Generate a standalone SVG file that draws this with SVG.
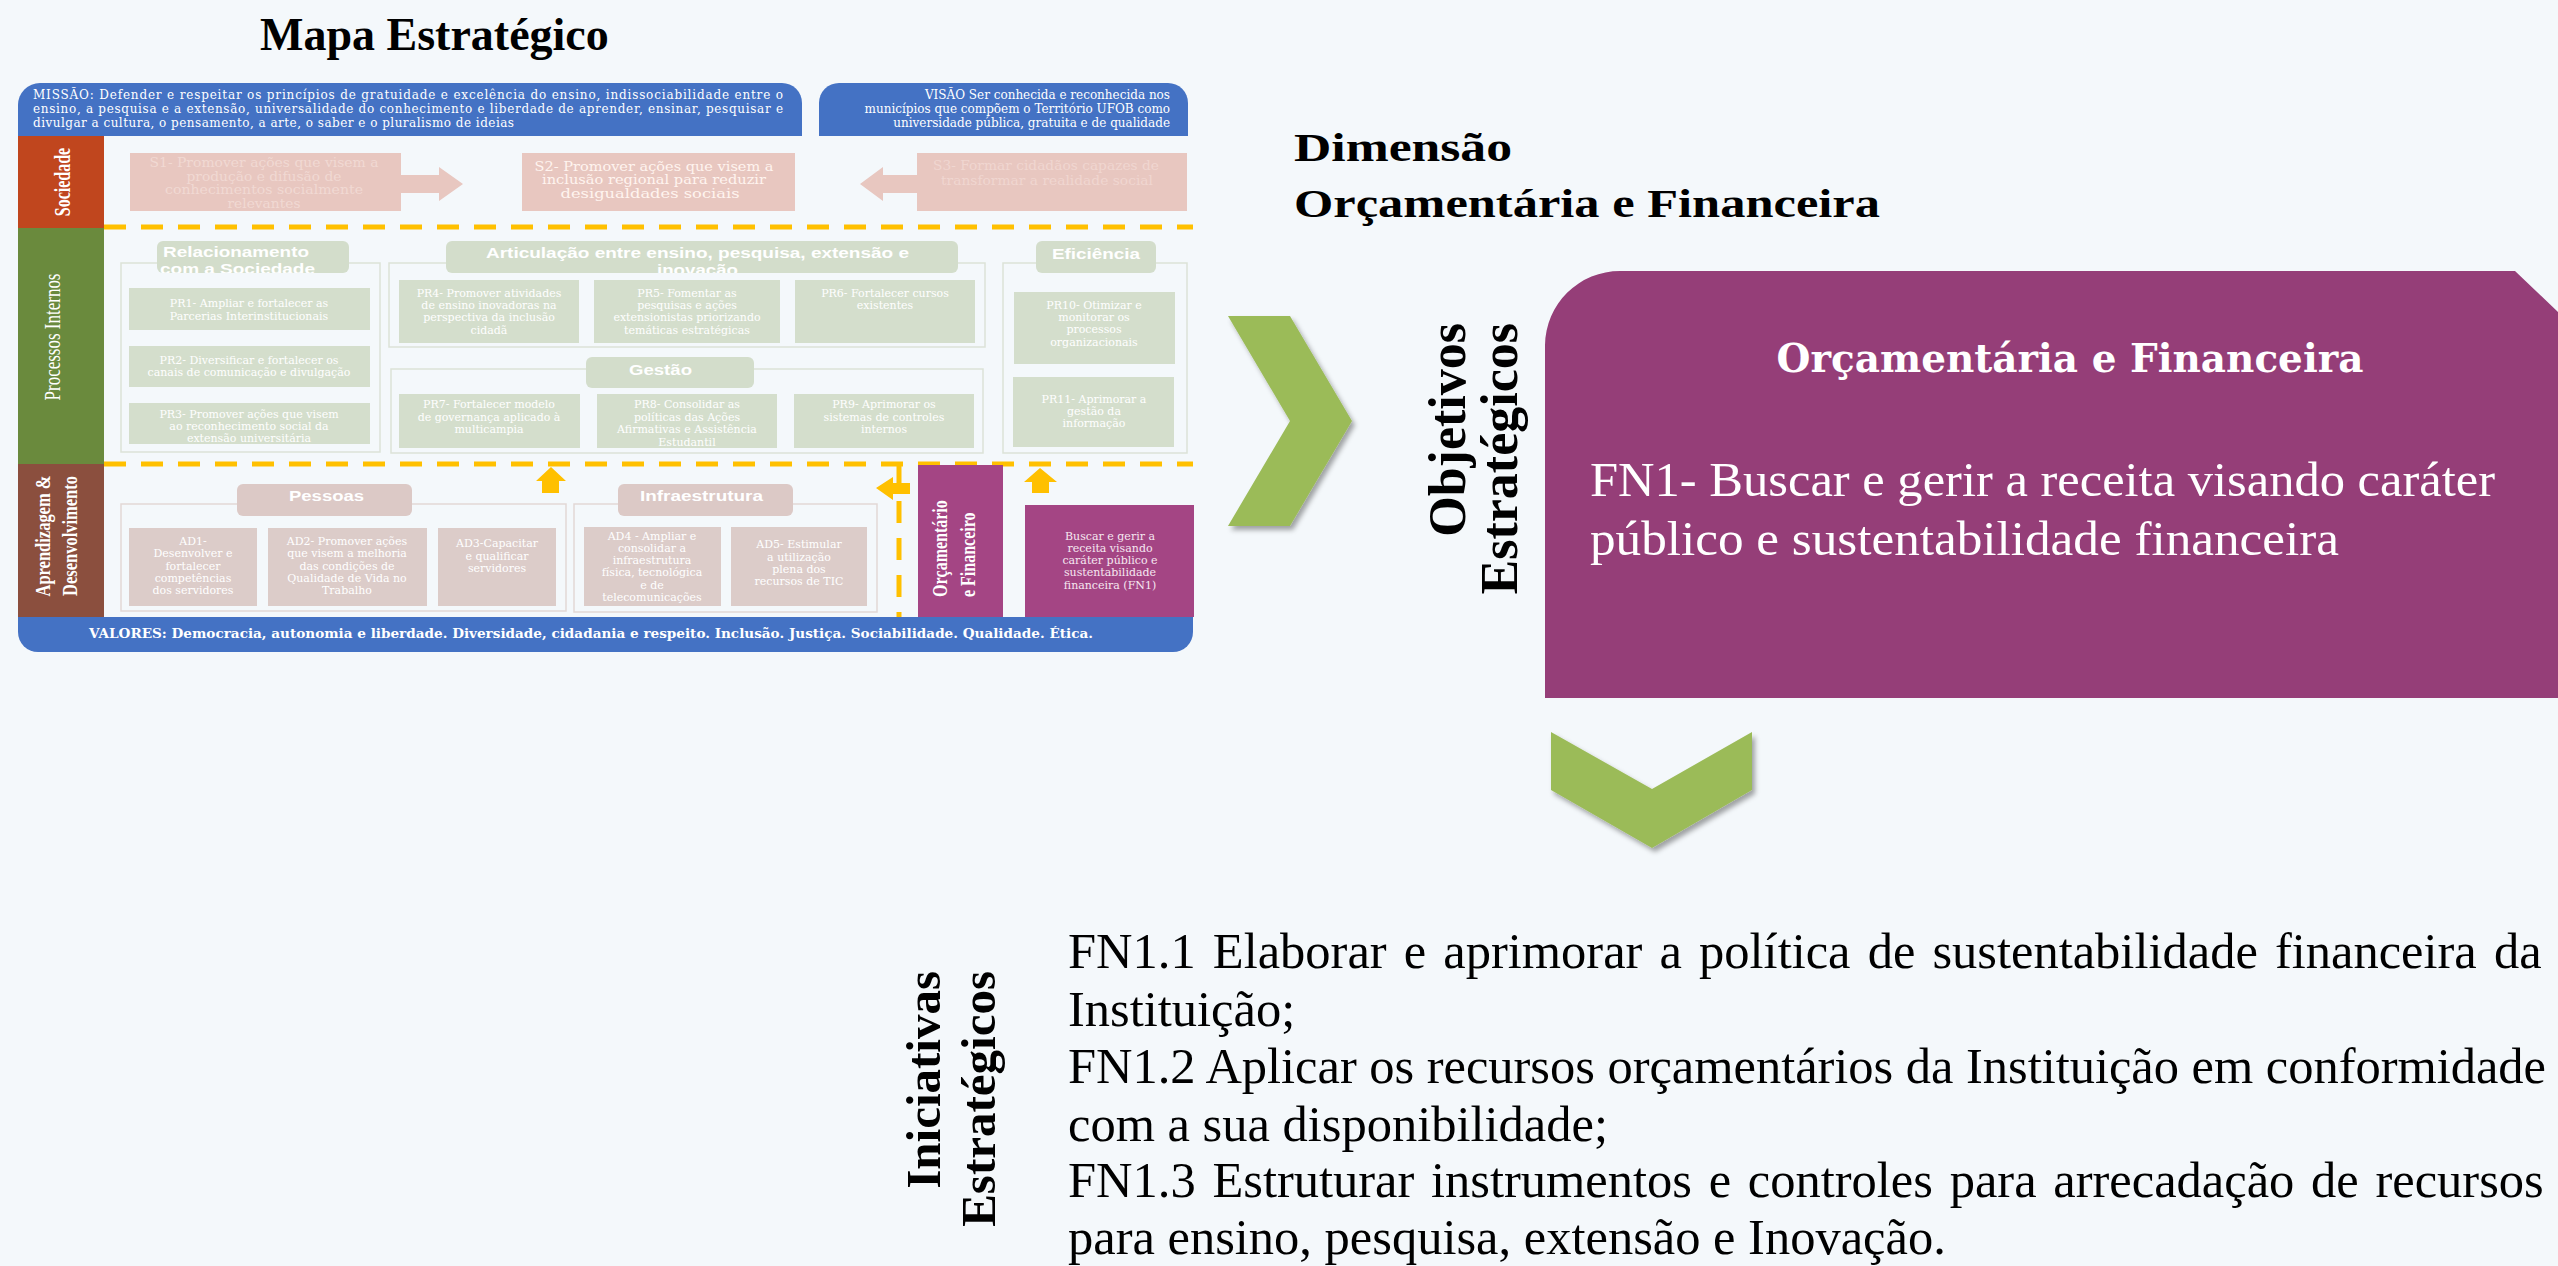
<svg xmlns="http://www.w3.org/2000/svg" width="2558" height="1266" viewBox="0 0 2558 1266">
<style>
.m{font-family:"DejaVu Serif",serif;fill:#fff}
.bx{font-family:"DejaVu Serif",serif;font-size:11px;fill:#fff;text-anchor:middle}
.tab{font-family:"Liberation Sans",Arial,sans-serif;font-weight:bold;font-size:14px;fill:#fff}
.gbox{fill:#D4DECC}
.pbox{fill:#DCCCC9}
.sbox{fill:#E8C7C0}
.gtab{fill:#D3DDCB}
.ptab{fill:#DCC9C6}
.frm{fill:none;stroke:#DCE2D8;stroke-width:1.5}
.dash{stroke:#FFC000;stroke-width:5;stroke-dasharray:22 15;fill:none}
.yel{fill:#FFC000}
.vl{font-family:"Liberation Serif","Times New Roman",serif;fill:#fff}
.big{font-family:"Liberation Serif","Times New Roman",serif;fill:#000}
.chev{fill:#9BBB59}
</style>
<defs>
<filter id="sh" x="-20%" y="-20%" width="150%" height="150%"><feDropShadow dx="3" dy="4" stdDeviation="2.5" flood-color="#000" flood-opacity="0.35"/></filter>
<clipPath id="cRel"><rect x="157" y="241" width="192" height="32"/></clipPath>
<clipPath id="cArt"><rect x="446" y="241" width="512" height="32"/></clipPath>
</defs>
<rect x="0" y="0" width="2558" height="1266" fill="#F4F8FB"/>

<text class="big" x="260" y="50" font-size="46" font-weight="bold">Mapa Estratégico</text>

<g id="missao">
<path d="M18,136 V105 A22,22 0 0 1 40,83 H782 A20,20 0 0 1 802,103 V136 Z" fill="#4472C4"/>
<text class="m" font-size="12" x="33" y="99" textLength="750" lengthAdjust="spacing">MISSÃO: Defender e respeitar os princípios de gratuidade e excelência do ensino, indissociabilidade entre o</text>
<text class="m" font-size="12" x="33" y="113" textLength="750" lengthAdjust="spacing">ensino, a pesquisa e a extensão, universalidade do conhecimento e liberdade de aprender, ensinar, pesquisar e</text>
<text class="m" font-size="12" x="33" y="127" textLength="481" lengthAdjust="spacing">divulgar a cultura, o pensamento, a arte, o saber e o pluralismo de ideias</text>
</g>
<g id="visao">
<path d="M819,136 V103 A20,20 0 0 1 839,83 H1168 A20,20 0 0 1 1188,103 V136 Z" fill="#4472C4"/>
<text class="m" font-size="12" x="1170" y="99" text-anchor="end">VISÃO Ser conhecida e reconhecida nos</text>
<text class="m" font-size="12" x="1170" y="113" text-anchor="end">municípios que compõem o Território UFOB como</text>
<text class="m" font-size="12" x="1170" y="127" text-anchor="end">universidade pública, gratuita e de qualidade</text>
</g>

<g id="sociedade-label">
<rect x="18" y="136" width="86" height="92" fill="#C0461E"/>
<text class="vl" font-size="16" font-weight="bold" text-anchor="middle" transform="translate(70,182) scale(1.4,1) rotate(-90)">Sociedade</text>
</g>
<g id="processos-label">
<rect x="18" y="228" width="86" height="236" fill="#6A8A3D"/>
<text class="vl" font-size="17" text-anchor="middle" transform="translate(60,337) scale(1.35,1) rotate(-90)">Processos Internos</text>
</g>
<g id="aprendizagem-label">
<rect x="18" y="464" width="86" height="153" fill="#8B4F3E"/>
<text class="vl" font-size="16.5" font-weight="bold" text-anchor="middle" transform="translate(50,536) scale(1.3,1) rotate(-90)">Aprendizagem &amp;</text>
<text class="vl" font-size="16.5" font-weight="bold" text-anchor="middle" transform="translate(77,536) scale(1.3,1) rotate(-90)">Desenvolvimento</text>
</g>
<g id="valores">
<path d="M18,617 H1193 V632 A20,20 0 0 1 1173,652 H38 A20,20 0 0 1 18,632 Z" fill="#4472C4"/>
<text class="m" font-size="13" font-weight="bold" x="89" y="638" textLength="1004" lengthAdjust="spacingAndGlyphs">VALORES: Democracia, autonomia e liberdade. Diversidade, cidadania e respeito. Inclusão. Justiça. Sociabilidade. Qualidade. Ética.</text>
</g>

<g id="connectors">
<line class="dash" x1="104" y1="227" x2="1193" y2="227"/>
<line class="dash" x1="104" y1="464" x2="1193" y2="464"/>
<line class="dash" x1="899" y1="464" x2="899" y2="617"/>
<polygon class="sbox" points="401,175 439,175 439,167 463,184 439,201 439,193 401,193"/>
<polygon class="sbox" points="917,175 883,175 883,167 860,184 883,201 883,193 917,193"/>
<polygon class="yel" points="551,467 566,481 559,481 559,493 542,493 542,481 536,481"/>
<polygon class="yel" points="1040,468 1057,482 1049,482 1049,493 1032,493 1032,482 1024,482"/>
<polygon class="yel" points="876,488 893,477 893,483 910,483 910,494 893,494 893,500"/>
<polygon class="chev" filter="url(#sh)" points="1228,316 1290,316 1352,421 1290,526 1228,526 1290,421"/>
<polygon class="chev" filter="url(#sh)" points="1551,732 1652,789 1752,732 1752,790 1652,848 1551,790"/>
</g>

<g id="s1">
<rect class="sbox" x="130" y="153" width="271" height="58"/>
<g class="m" font-size="13" text-anchor="middle" style="fill:#F1D9D3">
<text x="264" y="167" textLength="229" lengthAdjust="spacingAndGlyphs">S1- Promover ações que visem a</text>
<text x="264" y="181" textLength="155" lengthAdjust="spacingAndGlyphs">produção e difusão de</text>
<text x="264" y="194" textLength="198" lengthAdjust="spacingAndGlyphs">conhecimentos socialmente</text>
<text x="264" y="208" textLength="73" lengthAdjust="spacingAndGlyphs">relevantes</text>
</g>
</g>
<g id="s2">
<rect class="sbox" x="522" y="153" width="273" height="58"/>
<g class="m" font-size="13" text-anchor="middle" style="fill:#FFF4EF">
<text x="654" y="171" textLength="239" lengthAdjust="spacingAndGlyphs">S2- Promover ações que visem a</text>
<text x="654" y="184" textLength="224" lengthAdjust="spacingAndGlyphs">inclusão regional para reduzir</text>
<text x="650" y="198" textLength="179" lengthAdjust="spacingAndGlyphs">desigualdades sociais</text>
</g>
</g>
<g id="s3">
<rect class="sbox" x="917" y="153" width="270" height="58"/>
<g class="m" font-size="13" text-anchor="middle" style="fill:#F0D6D0">
<text x="1046" y="170" textLength="226" lengthAdjust="spacingAndGlyphs">S3- Formar cidadãos capazes de</text>
<text x="1047" y="185" textLength="212" lengthAdjust="spacingAndGlyphs">transformar a realidade social</text>
</g>
</g>

<g id="relacionamento">
<rect class="frm" x="121" y="263" width="259" height="189"/>
<rect class="gtab" x="157" y="241" width="192" height="32" rx="6"/>
<g clip-path="url(#cRel)">
<text class="tab" x="163" y="257" textLength="146" lengthAdjust="spacingAndGlyphs">Relacionamento</text>
<text class="tab" x="160" y="274" textLength="155" lengthAdjust="spacingAndGlyphs">com a Sociedade</text>
</g>
</g>
<g id="pr1"><rect class="gbox" x="129" y="288" width="241" height="42"/>
<text class="bx" x="249" y="307">PR1- Ampliar e fortalecer as</text><text class="bx" x="249" y="320">Parcerias Interinstitucionais</text></g>
<g id="pr2"><rect class="gbox" x="129" y="346" width="241" height="41"/>
<text class="bx" x="249" y="364">PR2- Diversificar e fortalecer os</text><text class="bx" x="249" y="376">canais de comunicação e divulgação</text></g>
<g id="pr3"><rect class="gbox" x="129" y="403" width="241" height="41"/>
<text class="bx" x="249" y="418">PR3- Promover ações que visem</text><text class="bx" x="249" y="430">ao reconhecimento social da</text><text class="bx" x="249" y="442">extensão universitária</text></g>

<g id="articulacao">
<rect class="frm" x="389" y="263" width="596" height="84"/>
<rect class="gtab" x="446" y="241" width="512" height="32" rx="6"/>
<g clip-path="url(#cArt)">
<text class="tab" x="486" y="258" textLength="423" lengthAdjust="spacingAndGlyphs">Articulação entre ensino, pesquisa, extensão e</text>
<text class="tab" x="657" y="275" textLength="81" lengthAdjust="spacingAndGlyphs">inovação</text>
</g>
</g>
<g id="pr4"><rect class="gbox" x="399" y="280" width="180" height="63"/>
<text class="bx" x="489" y="297">PR4- Promover atividades</text><text class="bx" x="489" y="309">de ensino inovadoras na</text><text class="bx" x="489" y="321">perspectiva da inclusão</text><text class="bx" x="489" y="334">cidadã</text></g>
<g id="pr5"><rect class="gbox" x="594" y="280" width="186" height="63"/>
<text class="bx" x="687" y="297">PR5- Fomentar as</text><text class="bx" x="687" y="309">pesquisas e ações</text><text class="bx" x="687" y="321">extensionistas priorizando</text><text class="bx" x="687" y="334">temáticas estratégicas</text></g>
<g id="pr6"><rect class="gbox" x="795" y="280" width="180" height="63"/>
<text class="bx" x="885" y="297">PR6- Fortalecer cursos</text><text class="bx" x="885" y="309">existentes</text></g>

<g id="gestao">
<rect class="frm" x="391" y="369" width="592" height="84"/>
<rect class="gtab" x="586" y="357" width="168" height="31" rx="6"/>
<text class="tab" x="629" y="375" textLength="63" lengthAdjust="spacingAndGlyphs">Gestão</text>
</g>
<g id="pr7"><rect class="gbox" x="399" y="394" width="181" height="54"/>
<text class="bx" x="489" y="408">PR7- Fortalecer modelo</text><text class="bx" x="489" y="421">de governança aplicado à</text><text class="bx" x="489" y="433">multicampia</text></g>
<g id="pr8"><rect class="gbox" x="597" y="394" width="180" height="54"/>
<text class="bx" x="687" y="408">PR8- Consolidar as</text><text class="bx" x="687" y="421">políticas das Ações</text><text class="bx" x="687" y="433">Afirmativas e Assistência</text><text class="bx" x="687" y="446">Estudantil</text></g>
<g id="pr9"><rect class="gbox" x="794" y="394" width="180" height="54"/>
<text class="bx" x="884" y="408">PR9- Aprimorar os</text><text class="bx" x="884" y="421">sistemas de controles</text><text class="bx" x="884" y="433">internos</text></g>

<g id="eficiencia">
<rect class="frm" x="1003" y="263" width="184" height="190"/>
<rect class="gtab" x="1036" y="241" width="120" height="32" rx="6"/>
<text class="tab" x="1052" y="259" textLength="88" lengthAdjust="spacingAndGlyphs">Eficiência</text>
</g>
<g id="pr10"><rect class="gbox" x="1014" y="292" width="161" height="72"/>
<text class="bx" x="1094" y="309">PR10- Otimizar e</text><text class="bx" x="1094" y="321">monitorar os</text><text class="bx" x="1094" y="333">processos</text><text class="bx" x="1094" y="346">organizacionais</text></g>
<g id="pr11"><rect class="gbox" x="1013" y="377" width="161" height="70"/>
<text class="bx" x="1094" y="403">PR11- Aprimorar a</text><text class="bx" x="1094" y="415">gestão da</text><text class="bx" x="1094" y="427">informação</text></g>

<g id="pessoas">
<rect class="frm" x="121" y="504" width="445" height="107" style="stroke:#E2D8D6"/>
<rect class="ptab" x="237" y="484" width="175" height="32" rx="6"/>
<text class="tab" x="289" y="501" textLength="75" lengthAdjust="spacingAndGlyphs">Pessoas</text>
</g>
<g id="ad1"><rect class="pbox" x="129" y="528" width="128" height="78"/>
<text class="bx" x="193" y="545">AD1-</text><text class="bx" x="193" y="557">Desenvolver e</text><text class="bx" x="193" y="570">fortalecer</text><text class="bx" x="193" y="582">competências</text><text class="bx" x="193" y="594">dos servidores</text></g>
<g id="ad2"><rect class="pbox" x="268" y="528" width="159" height="78"/>
<text class="bx" x="347" y="545">AD2- Promover ações</text><text class="bx" x="347" y="557">que visem a melhoria</text><text class="bx" x="347" y="570">das condições de</text><text class="bx" x="347" y="582">Qualidade de Vida no</text><text class="bx" x="347" y="594">Trabalho</text></g>
<g id="ad3"><rect class="pbox" x="438" y="528" width="118" height="78"/>
<text class="bx" x="497" y="547">AD3-Capacitar</text><text class="bx" x="497" y="560">e qualificar</text><text class="bx" x="497" y="572">servidores</text></g>

<g id="infraestrutura">
<rect class="frm" x="574" y="504" width="303" height="108" style="stroke:#E2D8D6"/>
<rect class="ptab" x="618" y="484" width="175" height="32" rx="6"/>
<text class="tab" x="640" y="501" textLength="123" lengthAdjust="spacingAndGlyphs">Infraestrutura</text>
</g>
<g id="ad4"><rect class="pbox" x="584" y="527" width="137" height="79"/>
<text class="bx" x="652" y="540">AD4 - Ampliar e</text><text class="bx" x="652" y="552">consolidar a</text><text class="bx" x="652" y="564">infraestrutura</text><text class="bx" x="652" y="576">física, tecnológica</text><text class="bx" x="652" y="589">e de</text><text class="bx" x="652" y="601">telecomunicações</text></g>
<g id="ad5"><rect class="pbox" x="731" y="527" width="136" height="79"/>
<text class="bx" x="799" y="548">AD5- Estimular</text><text class="bx" x="799" y="561">a utilização</text><text class="bx" x="799" y="573">plena dos</text><text class="bx" x="799" y="585">recursos de TIC</text></g>

<g id="orcamentario-label">
<rect x="918" y="465" width="85" height="152" fill="#A44584"/>
<text class="vl" font-size="16" font-weight="bold" transform="translate(947,597) scale(1.3,1) rotate(-90)">Orçamentário</text>
<text class="vl" font-size="16" font-weight="bold" transform="translate(975,597) scale(1.3,1) rotate(-90)">e Financeiro</text>
</g>
<g id="fn1-map">
<rect x="1025" y="505" width="169" height="112" fill="#A44584"/>
<g class="bx" style="fill:#F6E8F1">
<text x="1110" y="540">Buscar e gerir a</text><text x="1110" y="552">receita visando</text><text x="1110" y="564">caráter público e</text><text x="1110" y="576">sustentabilidade</text><text x="1110" y="589">financeira (FN1)</text>
</g>
</g>

<g id="dimensao">
<text class="big" font-family="DejaVu Serif" font-size="40" font-weight="bold" x="1294" y="161" textLength="218" lengthAdjust="spacingAndGlyphs">Dimensão</text>
<text class="big" font-family="DejaVu Serif" font-size="40" font-weight="bold" x="1294" y="217" textLength="586" lengthAdjust="spacingAndGlyphs">Orçamentária e Financeira</text>
</g>

<g id="objetivos-label">
<text class="big" font-size="52" font-weight="bold" text-anchor="end" transform="translate(1465,323) rotate(-90)">Objetivos</text>
<text class="big" font-size="52" font-weight="bold" text-anchor="end" transform="translate(1517,323) rotate(-90)">Estratégicos</text>
</g>

<g id="objetivo-fn1">
<path d="M1545,698 V345 A75,75 0 0 1 1620,271 H2515 L2558,312 V698 Z" fill="#953E78"/>
<text font-family="DejaVu Serif,serif" font-size="40" font-weight="bold" fill="#fff" x="2070" y="372" text-anchor="middle" textLength="587" lengthAdjust="spacingAndGlyphs">Orçamentária e Financeira</text>
<text class="vl" font-size="49" x="1590" y="496" textLength="905" lengthAdjust="spacingAndGlyphs">FN1- Buscar e gerir a receita visando caráter</text>
<text class="vl" font-size="49" x="1590" y="555" textLength="749" lengthAdjust="spacingAndGlyphs">público e sustentabilidade financeira</text>
</g>

<g id="iniciativas-label">
<text class="big" font-size="49" font-weight="bold" text-anchor="end" transform="translate(940,971) rotate(-90)">Iniciativas</text>
<text class="big" font-size="49" font-weight="bold" text-anchor="end" transform="translate(995,971) rotate(-90)">Estratégicos</text>
</g>

<g id="iniciativas">
<text class="big" font-size="50.5" x="1068" y="968" word-spacing="4.5">FN1.1 Elaborar e aprimorar a política de sustentabilidade financeira da</text>
<text class="big" font-size="50.5" x="1068" y="1026">Instituição;</text>
<text class="big" font-size="50.5" x="1068" y="1083" textLength="1478" lengthAdjust="spacing">FN1.2 Aplicar os recursos orçamentários da Instituição em conformidade</text>
<text class="big" font-size="50.5" x="1068" y="1141">com a sua disponibilidade;</text>
<text class="big" font-size="50.5" x="1068" y="1197" word-spacing="4.1">FN1.3 Estruturar instrumentos e controles para arrecadação de recursos</text>
<text class="big" font-size="50.5" x="1068" y="1254">para ensino, pesquisa, extensão e Inovação.</text>
</g>
</svg>
